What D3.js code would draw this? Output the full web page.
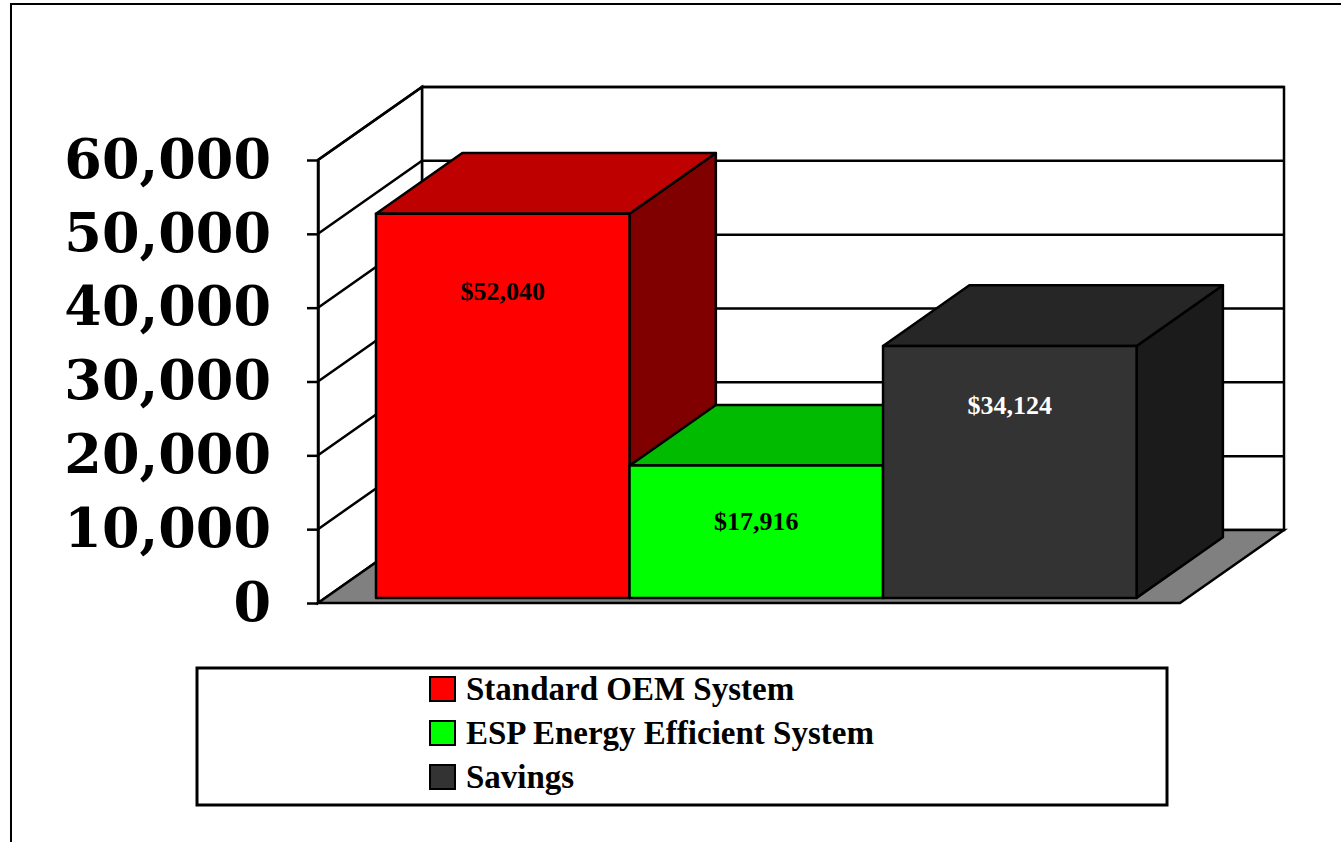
<!DOCTYPE html>
<html>
<head>
<meta charset="utf-8">
<script src="https://cdn.jsdelivr.net/npm/d3@7"></script>
<style>
  body { margin: 0; background: #fff; }
  svg { display: block; }
</style>
</head>
<body>
<div id="chart"></div>
<script>
// chart data
const series = ["Standard OEM System", "ESP Energy Efficient System", "Savings"];
const values = [52040, 17916, 34124];
const yTicks = [0, 10000, 20000, 30000, 40000, 50000, 60000];

// styles
const frontColors = ["#ff0000", "#00ff00", "#333333"];
const topColors = ["#bf0000", "#00bb00", "#262626"];
const sideColors = ["#800000", "#008000", "#1b1b1b"];
const labelColors = ["#000000", "#000000", "#ffffff"];
const labelDy = [86, 64, 68];

const w = 1341;
const h = 842;
const depthX = 104;
const depthY = -73;
const zFront = 0.07;
const zBack = 0.9;

const svg = d3.select("#chart")
    .append("svg")
    .attr("width", w)
    .attr("height", h);

// outer frame
svg.append("rect")
    .attr("x", 11).attr("y", 4)
    .attr("width", w + 10).attr("height", h + 10)
    .attr("fill", "none")
    .attr("stroke", "#000")
    .attr("stroke-width", 2);

const y = d3.scaleLinear()
    .domain([0, 60000])
    .range([603, 160]);

const x = d3.scaleBand()
    .domain(series)
    .range([318, 1180])
    .paddingInner(0)
    .paddingOuter(0.2);

const [x0, x1] = x.range();

// project a point (screen x on front plane, value, depth 0..1)
const P = (px, v, z) => [px + z * depthX, y(v) + z * depthY];
const poly = pts => "M" + pts.map(p => p.join(",")).join("L") + "Z";
const line = pts => "M" + pts.map(p => p.join(",")).join("L");

const walls = svg.append("g").attr("class", "walls");

// back wall
walls.append("path")
    .attr("d", poly([P(x0, 0, 1), P(x1, 0, 1), P(x1, 60000, 1), P(x0, 60000, 1)]))
    .attr("fill", "#fff")
    .attr("stroke", "#000")
    .attr("stroke-width", 2.5);

// side wall
walls.append("path")
    .attr("d", poly([P(x0, 0, 0), P(x0, 0, 1), P(x0, 60000, 1), P(x0, 60000, 0)]))
    .attr("fill", "#fff")
    .attr("stroke", "#000")
    .attr("stroke-width", 2.5);

// floor
walls.append("path")
    .attr("d", poly([P(x0, 0, 0), P(x1, 0, 0), P(x1, 0, 1), P(x0, 0, 1)]))
    .attr("fill", "#808080")
    .attr("stroke", "#000")
    .attr("stroke-width", 2.5);

// gridlines
walls.selectAll(".grid")
    .data(yTicks.filter(t => t > 0))
    .enter()
    .append("path")
    .attr("class", "grid")
    .attr("d", t => line([P(x0, t, 0), P(x0, t, 1), P(x1, t, 1)]))
    .attr("fill", "none")
    .attr("stroke", "#000")
    .attr("stroke-width", 2.5);

// y axis
const yAxis = d3.axisLeft(y)
    .tickValues(yTicks)
    .tickSize(11)
    .tickSizeOuter(0)
    .tickPadding(36)
    .tickFormat(d3.format(","));

const axisG = svg.append("g")
    .attr("transform", `translate(${x0},0)`)
    .call(yAxis);

axisG.select(".domain").attr("stroke-width", 2.5);
axisG.selectAll(".tick line").attr("stroke-width", 2.5);
axisG.selectAll(".tick text")
    .attr("font-family", "'DejaVu Serif', serif")
    .attr("font-weight", "bold")
    .attr("font-size", 54)
    .attr("fill", "#000");

// bars, left to right so later ones cover earlier sides
const bars = svg.append("g").attr("class", "bars")
    .selectAll("g")
    .data(series)
    .enter()
    .append("g");

bars.append("path")
    .attr("d", (d, i) => {
        const r = x(d) + x.bandwidth();
        return poly([P(r, 0, zFront), P(r, 0, zBack), P(r, values[i], zBack), P(r, values[i], zFront)]);
    })
    .attr("fill", (d, i) => sideColors[i])
    .attr("stroke", "#000")
    .attr("stroke-width", 2.5)
    .attr("stroke-linejoin", "round");

bars.append("path")
    .attr("d", (d, i) => {
        const l = x(d), r = x(d) + x.bandwidth();
        return poly([P(l, values[i], zFront), P(r, values[i], zFront), P(r, values[i], zBack), P(l, values[i], zBack)]);
    })
    .attr("fill", (d, i) => topColors[i])
    .attr("stroke", "#000")
    .attr("stroke-width", 2.5)
    .attr("stroke-linejoin", "round");

bars.append("path")
    .attr("d", (d, i) => {
        const l = x(d), r = x(d) + x.bandwidth();
        return poly([P(l, 0, zFront), P(r, 0, zFront), P(r, values[i], zFront), P(l, values[i], zFront)]);
    })
    .attr("fill", (d, i) => frontColors[i])
    .attr("stroke", "#000")
    .attr("stroke-width", 2.5)
    .attr("stroke-linejoin", "round");

// value labels
bars.append("text")
    .attr("x", d => x(d) + x.bandwidth() / 2 + zFront * depthX)
    .attr("y", (d, i) => P(0, values[i], zFront)[1] + labelDy[i])
    .attr("text-anchor", "middle")
    .attr("font-family", "'Liberation Serif', 'Times New Roman', serif")
    .attr("font-weight", "bold")
    .attr("font-size", 26)
    .attr("fill", (d, i) => labelColors[i])
    .text((d, i) => "$" + d3.format(",")(values[i]));

// legend
const legend = svg.append("g").attr("id", "legend");

legend.append("rect")
    .attr("x", 197).attr("y", 668)
    .attr("width", 970).attr("height", 137)
    .attr("fill", "#fff")
    .attr("stroke", "#000")
    .attr("stroke-width", 3);

const items = legend.selectAll(".item")
    .data(series)
    .enter()
    .append("g")
    .attr("class", "item")
    .attr("transform", (d, i) => `translate(430,${677 + i * 44})`);

items.append("rect")
    .attr("width", 25).attr("height", 24)
    .attr("fill", (d, i) => frontColors[i])
    .attr("stroke", "#000")
    .attr("stroke-width", 2);

items.append("text")
    .attr("x", 36)
    .attr("y", 23)
    .attr("font-family", "'Liberation Serif', 'Times New Roman', serif")
    .attr("font-weight", "bold")
    .attr("font-size", 33)
    .attr("fill", "#000")
    .text(d => d);
</script>
</body>
</html>
